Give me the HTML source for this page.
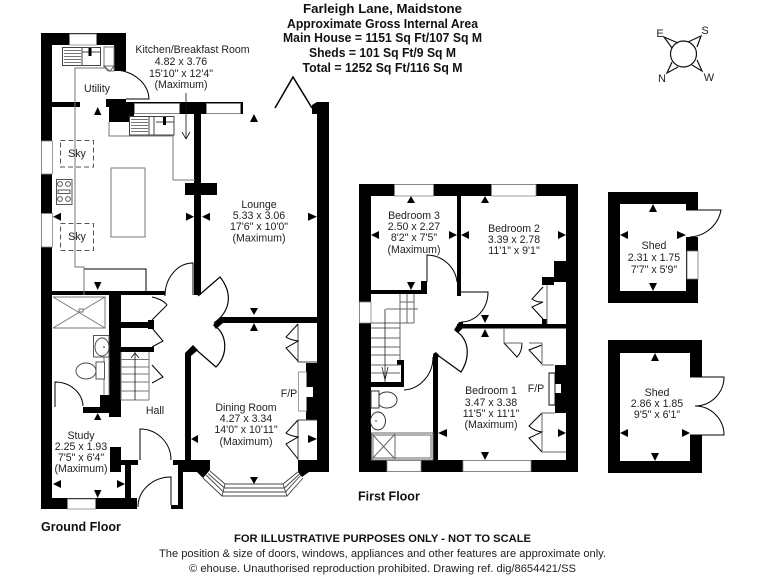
<!DOCTYPE html>
<html><head><meta charset="utf-8"><style>
html,body{margin:0;padding:0;background:#fff;width:768px;height:576px;overflow:hidden}
svg{display:block}
text{font-family:"Liberation Sans",Arial,sans-serif;fill:#222}
text.c{text-anchor:middle}
.l{font-size:10.6px}
.b{font-weight:bold;fill:#111}
</style></head><body>
<svg width="768" height="576" viewBox="0 0 768 576" xmlns="http://www.w3.org/2000/svg">
<!-- GROUND FLOOR WALLS -->
<g fill="#000">
<rect x="41" y="33" width="11" height="476"/>
<rect x="41" y="33" width="85" height="12"/>
<rect x="114" y="33" width="12" height="38"/>
<rect x="52" y="102" width="28" height="5"/>
<rect x="52" y="291" width="113" height="4"/>
<rect x="109" y="295" width="12" height="122"/>
<rect x="121" y="322" width="27" height="6"/>
<rect x="148" y="320" width="6" height="9"/>
<rect x="121" y="347" width="33" height="5"/>
<rect x="100" y="395" width="21" height="16"/>
<rect x="83" y="407" width="27" height="6"/>
<rect x="41" y="498" width="96" height="11"/>
<rect x="110" y="447" width="11" height="25"/>
<rect x="121" y="460" width="17" height="5"/>
<rect x="125" y="465" width="6" height="44"/>
<rect x="106" y="99" width="20" height="8"/>
<rect x="109" y="102" width="25" height="20"/>
<rect x="126" y="102" width="117" height="12"/>
<rect x="194" y="114" width="7" height="181"/>
<rect x="185" y="183" width="32" height="12"/>
<path d="M312 105L317 102H329V472H298V460H317V420H306V363H317V323H223L216 329L213 325L221 317H317V114H312Z"/>
<path d="M185 353L193 345L198 350L191 356V460H210V470L203 478L197 472H183V509H171V505H178V465H173V460H185Z"/>
<path d="M298 472L302 477L309 472Z"/>
</g>
<!-- WINDOWS -->
<g fill="#fff" stroke="#888" stroke-width=".8">
<rect x="69.5" y="34" width="27" height="11"/>
<rect x="134.5" y="103.5" width="45" height="10"/>
<rect x="206.5" y="103.5" width="34" height="10"/>
<rect x="41.5" y="141" width="11" height="33"/>
<rect x="41.5" y="213.5" width="11" height="33.5"/>
<rect x="67.5" y="499" width="28" height="10"/>
<rect x="298.5" y="372" width="8" height="39"/>
<rect x="306" y="387" width="7" height="10" stroke="none"/>
</g>
<!-- Bay -->
<g fill="none" stroke="#444" stroke-width=".9">
<path d="M203 478L222 496H287L303 478"/>
<path d="M206 475L223.5 492H285.5L301 475"/>
<path d="M208 473.500L224.500 488H284.500L300 473.500"/>
<path d="M210 471L225 484H283L299 471"/>
<path d="M222 496L225 484M287 496L283 484"/>
</g>
<!-- Doors -->
<g fill="none" stroke="#000" stroke-width="1">
<path d="M116 70A36 30 0 0 1 149 99H126"/>
<path stroke-width="1.5" d="M275 108L293 77L312 108"/>
<path d="M165 296A28 33 0 0 1 193 263V295"/>
<path stroke-width="1.2" d="M198 296L220 277C232 292 232 310 214 323"/>
<path stroke-width="1.2" d="M193 347L216 367C228 355 228 335 214 325"/>
<path d="M140 460V429A31 31 0 0 1 171 460"/>
<path d="M171 505V477A33 30 0 0 0 138 507"/>
<path d="M55 407V382A28 25 0 0 1 83 406"/>
<path d="M152 297C158 298 164 301 167 305L152 320"/>
<path d="M152 328L163 341L152 347"/>
<path d="M152 365L163 377L152 383"/>
<path stroke="#444" d="M298 324V362H317M298 420H317M298 420V460"/>
<path d="M298 324L286 337C290 340 294 340 298 341L286 348L298 361"/>
<path d="M298 420L286 433C290 436 294 436 298 437L286 444L298 459"/>
<path d="M146 295V269H84V295"/>
</g>
<!-- Grey worktop lines -->
<g fill="none" stroke="#777" stroke-width="1">
<path d="M104 68H75V267H84V295"/>
<path d="M109 122V136H173V180H195"/>
<rect x="111" y="168" width="34" height="69"/>
<path d="M53 297H105V328H53M53 297L105 328M105 297L53 328"/>
<rect x="79" y="309" width="4" height="3" fill="#fff"/>
<path d="M121 352V400M121 367H149M121 374H149M121 382H149M121 391H149M121 400H149M149 352V400"/>
<path d="M121 359.500H149M104 335V395M109 335V395"/>
</g>
<path d="M104 47h10v24l-6 0l-4-4z" fill="none" stroke="#777"/>
<path d="M104 66l6 5l4-5z" fill="#fff" stroke="#444" stroke-width=".8"/>
<!-- Sinks -->
<g fill="#fff" stroke="#444" stroke-width="1">
<rect x="62.5" y="47.500" width="38" height="18"/>
<path d="M82 47.500V65.500M82 52H100"/>
<rect x="129.500" y="116.500" width="44.500" height="18.500"/>
<path d="M149 116.500V135M154 116.500V135M156 122H174"/>
</g>
<path fill="#777" d="M64 50h17v1h-17zM64 53h17v1h-17zM64 56h17v1h-17zM64 59h17v1h-17zM64 62h17v1h-17zM131 119h17v1h-17zM131 122h17v1h-17zM131 125h17v1h-17zM131 128h17v1h-17zM131 131h17v1h-17z"/>
<path fill="#000" d="M88.500 48h3v8h-3zM163 117h3v8h-3z"/>
<!-- arrows -->
<path fill="none" stroke="#111" stroke-width=".8" d="M186 93V139M182 132L186 139L190 132M135 352V400M131 358L135 353L139 358"/>
<!-- Hob -->
<g fill="none" stroke="#555" stroke-width="1">
<rect x="56.500" y="179.500" width="15.500" height="25"/>
<circle cx="60" cy="184" r="2.400"/><circle cx="68" cy="184" r="2.400"/><circle cx="60" cy="199" r="2.400"/><circle cx="68" cy="199" r="2.400"/>
<rect x="58" y="190" width="12" height="3.500"/>
</g>
<!-- Skylights -->
<g fill="none" stroke="#555" stroke-width="1" stroke-dasharray="5 3">
<rect x="60.500" y="140.500" width="33" height="26.500"/>
<rect x="60.500" y="223.500" width="33" height="27"/>
</g>
<!-- WC & basin -->
<g fill="#fff" stroke="#444" stroke-width=".9">
<rect x="93.500" y="335.500" width="15.500" height="21.500"/>
<ellipse cx="102" cy="347" rx="7" ry="9"/>
<rect x="96" y="362" width="8.500" height="17"/>
<ellipse cx="86" cy="371" rx="10" ry="8"/>
</g>
<circle cx="104" cy="347" r=".8" fill="#222"/>
<!-- FIRST FLOOR -->
<path fill="#000" fill-rule="evenodd" d="M359 184H578V472H359ZM371 196V460H566V196Z"/>
<g fill="#000">
<rect x="457" y="196" width="4" height="100"/>
<rect x="371" y="290" width="56" height="4"/>
<rect x="421" y="281" width="6" height="13"/>
<rect x="457" y="324" width="109" height="4.500"/>
<path d="M454 330L459 322H463V328L458 333Z"/>
<rect x="433" y="354" width="5" height="106"/>
<path d="M433 354L436 352L439 355L438 358H433Z"/>
<rect x="401" y="360" width="3" height="27"/>
<rect x="397" y="360" width="7" height="5"/>
<rect x="371" y="382" width="33" height="5"/>
<rect x="554" y="261" width="12" height="21"/>
<rect x="542" y="277" width="12" height="8"/>
<rect x="542" y="319" width="5" height="5"/>
<rect x="555" y="365" width="11" height="48"/>
</g>
<g fill="#fff" stroke="#888" stroke-width=".8">
<rect x="394.500" y="184.500" width="39" height="11.500"/>
<rect x="491.500" y="184.500" width="44.500" height="11.500"/>
<rect x="359.500" y="302" width="11.500" height="21"/>
<rect x="387" y="460.500" width="34" height="11"/>
<rect x="463" y="460.500" width="68" height="11"/>
<rect x="555" y="384" width="6" height="9" stroke="none"/>
</g>
<path fill="#fff" stroke="#000" stroke-width=".9" d="M549 373H555V405H549Z"/>
<g fill="none" stroke="#000" stroke-width="1">
<path d="M427 282V255A31 30 0 0 1 457 282"/>
<path d="M461 292H488A27 30 0 0 1 461 322"/>
<path stroke-width="1.200" d="M436 354L461 372C470 358 470 340 456 331"/>
<path d="M404 390A31 33 0 0 0 433 357"/>
<path d="M543 287L532 299C536 302 539 302 543 302L532 307L543 319"/>
<path d="M504 343L517 357C521 353 522 348 522 343"/>
<path d="M542 345L529 350L542 364"/>
<path d="M542 413L529 426C533 430 537 431 542 432L529 438L542 452"/>
</g>
<g fill="none" stroke="#666" stroke-width="1">
<path d="M504 328V343H522M529 343H542V365H554M547 285V324M542 413V452H566M542 413H555"/>
<rect x="371.500" y="433" width="61.500" height="27"/>
<rect x="373" y="435" width="58" height="23"/>
<path d="M372 434L395 459M372 459L395 434M395 434V459"/>
<path d="M400 294V360M407 294V323M414 294V323M400 302H414M386 309H418M400 323H414M371 323H400M371 328H400M371 338H400M371 347H400M371 355H400M371 365H400M371 373H400"/>
</g>
<path fill="none" stroke="#222" stroke-width=".8" d="M385 309V382M382 367L385 380L388 367"/>
<g fill="#fff" stroke="#333" stroke-width="1">
<ellipse cx="387" cy="400" rx="10" ry="8"/>
<rect x="371" y="391" width="8" height="17"/>
<ellipse cx="378" cy="421" rx="7.500" ry="9"/>
</g>
<circle cx="376" cy="421" r=".8" fill="#222"/>
<!-- SHEDS -->
<path fill="#000" fill-rule="evenodd" d="M608 192H698V303H608ZM620 204V291H686V204Z"/>
<rect x="686" y="210" width="13" height="27" fill="#fff"/>
<rect x="687" y="251" width="11" height="28" fill="#fff" stroke="#777" stroke-width=".8"/>
<path fill="none" stroke="#000" stroke-width="1" d="M686 210H721A33 33 0 0 1 690 237"/>
<path fill="#000" fill-rule="evenodd" d="M608 340H702V473H608ZM620 353V461H690V353Z"/>
<rect x="690" y="377" width="13" height="58" fill="#fff"/>
<path fill="none" stroke="#000" stroke-width="1" d="M690 377H724A29 29 0 0 1 695 406A29 29 0 0 1 724 435H690"/>
<!-- COMPASS -->
<g fill="none" stroke="#111" stroke-width="1.200">
<circle cx="683.500" cy="54" r="13"/>
<path d="M678 43L664 37L672 48M688 42L701 36L697 47M692 65L702 71L697 60M672 62L667 73L678 67"/>
</g>
<g><text class="c" x="660" y="37" style="font-size:11px">E</text><text class="c" x="705" y="34" style="font-size:11px">S</text><text class="c" x="662" y="82" style="font-size:11px">N</text><text class="c" x="709" y="81" style="font-size:11px">W</text></g>
<!-- DIMENSION ARROWS -->
<path fill="#000" d="M97.700 107l-3.700 8h7.400zM254 114l-4 8h8zM53 216.700l8-4v8zM194 216.700l-8-4v8zM202 216.700l8-4v8zM317 216.700l-9-4v8zM97.700 290l-3.700-8h7.400zM254 315l-4-7h8zM254 323l-4 8h8zM191 439l7-4v8zM317 439l-9-4v8zM254 484l-4-7h8zM97.700 413l-3.700 7h7.400zM53 484l8-4v8zM125 484l-8-4v8zM97.700 498l-3.700-8h7.400zM411 196l-4 7h8zM371 235l8-4v8zM457 235l-8-4v8zM411 290l-4-8h8zM485 196l-4 7h8zM461 235l8-4v8zM566 235l-8-4v8zM485 323l-4-8h8zM485 329l-4 8h8zM438 433l9-4v8zM566 433l-8-4v8zM485 460l-4-8h8zM653 204l-4 8h8zM620 235l8-4v8zM686 235l-9-4v8zM653 291l-4-8h8zM655 353l-4 8h8zM620 433l8-4v8zM690 433l-8-4v8zM655 461l-4-8h8z"/>
<!-- LABELS -->
<text class="c l" x="192.500" y="53">Kitchen/Breakfast Room</text>
<text class="c l" x="181" y="65">4.82 x 3.76</text>
<text class="c l" x="181" y="77">15'10" x 12'4"</text>
<text class="c l" x="181" y="88">(Maximum)</text>
<text class="c l" x="97" y="92">Utility</text>
<text class="c l" x="77" y="157">Sky</text>
<text class="c l" x="77" y="240">Sky</text>
<text class="c l" x="259" y="208">Lounge</text>
<text class="c l" x="259" y="219">5.33 x 3.06</text>
<text class="c l" x="259" y="230">17'6" x 10'0"</text>
<text class="c l" x="259" y="241.500">(Maximum)</text>
<text class="c l" x="155" y="414">Hall</text>
<text class="c l" x="246" y="411">Dining Room</text>
<text class="c l" x="246" y="422">4.27 x 3.34</text>
<text class="c l" x="246" y="433">14'0" x 10'11"</text>
<text class="c l" x="246" y="445">(Maximum)</text>
<text class="c l" x="289" y="397">F/P</text>
<text class="c l" x="81" y="439">Study</text>
<text class="c l" x="81" y="450">2.25 x 1.93</text>
<text class="c l" x="81" y="461">7'5" x 6'4"</text>
<text class="c l" x="81" y="472">(Maximum)</text>
<text class="c l" x="414" y="219">Bedroom 3</text>
<text class="c l" x="414" y="230">2.50 x 2.27</text>
<text class="c l" x="414" y="241">8'2" x 7'5"</text>
<text class="c l" x="414" y="253">(Maximum)</text>
<text class="c l" x="514" y="232">Bedroom 2</text>
<text class="c l" x="514" y="243">3.39 x 2.78</text>
<text class="c l" x="514" y="254">11'1" x 9'1"</text>
<text class="c l" x="491" y="394">Bedroom 1</text>
<text class="c l" x="491" y="406">3.47 x 3.38</text>
<text class="c l" x="491" y="417">11'5" x 11'1"</text>
<text class="c l" x="491" y="428">(Maximum)</text>
<text class="c l" x="536" y="392">F/P</text>
<text class="c l" x="654" y="249">Shed</text>
<text class="c l" x="654" y="261">2.31 x 1.75</text>
<text class="c l" x="654" y="273">7'7" x 5'9"</text>
<text class="c l" x="657" y="396">Shed</text>
<text class="c l" x="657" y="407">2.86 x 1.85</text>
<text class="c l" x="657" y="418">9'5" x 6'1"</text>
<text class="b" x="41" y="531" style="font-size:12.500px">Ground Floor</text>
<text class="b" x="358" y="500.500" style="font-size:12.500px">First Floor</text>
<!-- TITLE -->
<text class="c b" x="382.500" y="13" textLength="159" lengthAdjust="spacingAndGlyphs" style="font-size:13px">Farleigh Lane, Maidstone</text>
<text class="c b" x="382.500" y="28" textLength="191" lengthAdjust="spacingAndGlyphs" style="font-size:12.500px">Approximate Gross Internal Area</text>
<text class="c b" x="382.500" y="42" textLength="199" lengthAdjust="spacingAndGlyphs" style="font-size:12.500px">Main House = 1151 Sq Ft/107 Sq M</text>
<text class="c b" x="382.500" y="57" textLength="147" lengthAdjust="spacingAndGlyphs" style="font-size:12.500px">Sheds = 101 Sq Ft/9 Sq M</text>
<text class="c b" x="382.500" y="72" textLength="160" lengthAdjust="spacingAndGlyphs" style="font-size:12.500px">Total = 1252 Sq Ft/116 Sq M</text>
<!-- FOOTER -->
<text class="c b" x="382.500" y="542" textLength="297" lengthAdjust="spacingAndGlyphs" style="font-size:11px">FOR ILLUSTRATIVE PURPOSES ONLY - NOT TO SCALE</text>
<text class="c" x="382.500" y="557" textLength="447" lengthAdjust="spacingAndGlyphs" style="font-size:11px">The position &amp; size of doors, windows, appliances and other features are approximate only.</text>
<text class="c" x="382.500" y="572" textLength="387" lengthAdjust="spacingAndGlyphs" style="font-size:11px">© ehouse. Unauthorised reproduction prohibited. Drawing ref. dig/8654421/SS</text>
</svg>
</body></html>
